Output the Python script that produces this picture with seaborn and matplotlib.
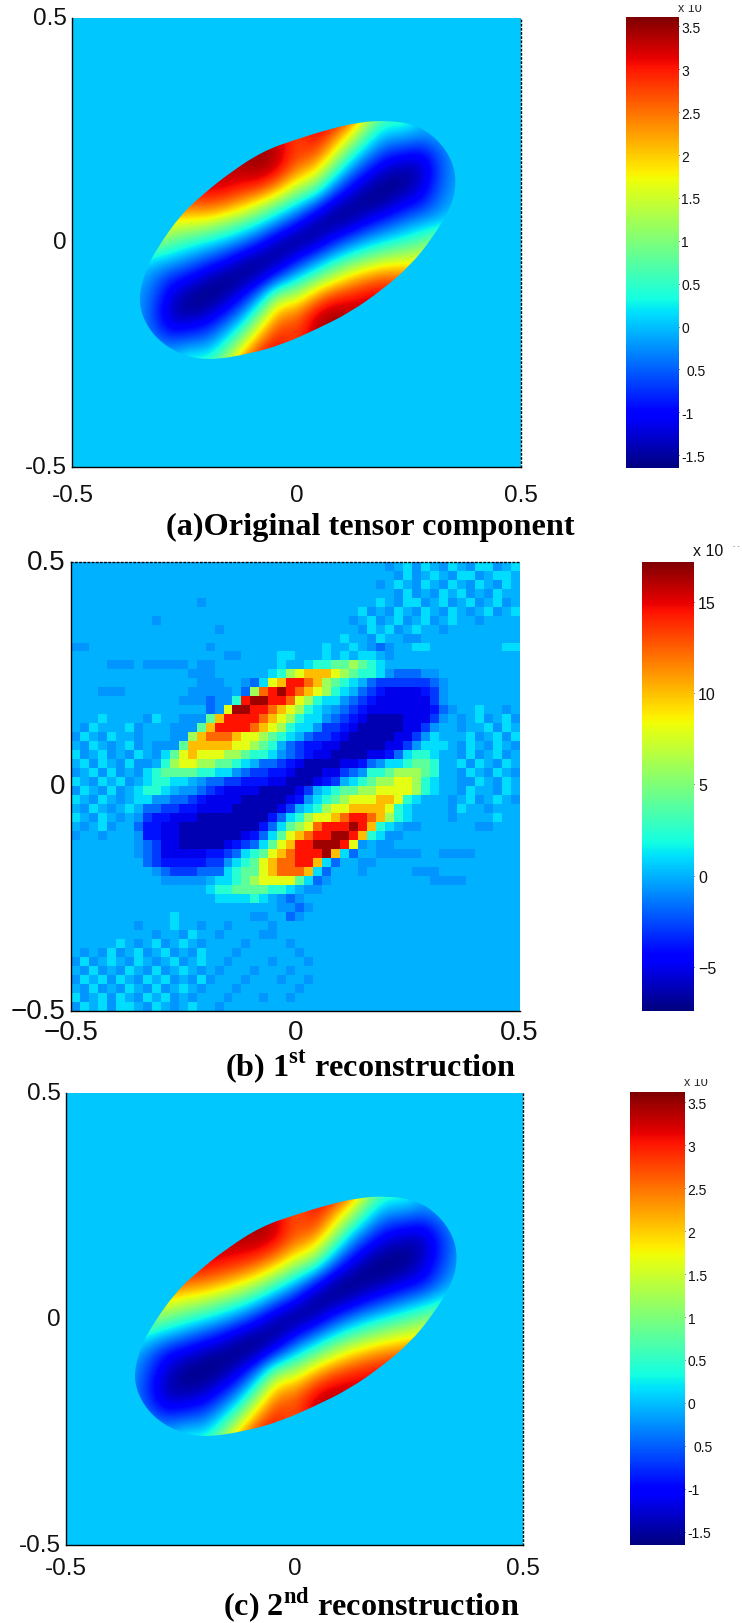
import numpy as np
import matplotlib
matplotlib.use("Agg")
import matplotlib.pyplot as plt
from matplotlib.patches import PathPatch, Rectangle
from matplotlib.path import Path
import seaborn as sns

sns.set_style("white")
plt.rcParams['font.family'] = ['Liberation Sans', 'DejaVu Sans']
plt.rcParams['mathtext.fontset'] = 'custom'
plt.rcParams['mathtext.bf'] = 'Liberation Serif:bold'
plt.rcParams['mathtext.rm'] = 'Liberation Serif:bold'

# ---- panel (a): one list per x (-0.40 .. 0.40), values for y = 0.32 .. -0.32, units of colourbar
FIELD_A_COLS = [
 [3,3,3,3,3,3,2.8,2.2,1.5,.3,0,0,0,0,0,0,0],
 [3,3,3,3,3,3,2.8,2.2,1.5,.3,0,-.1,-.1,-.1,0,0,0],
 [3.2,3.2,3.2,3.2,3.2,3.2,3.0,2.3,1.18,.1,-.3,-.5,-.6,-.5,-.05,0,0],
 [3.4,3.4,3.4,3.4,3.4,3.4,2.6,1.6,.75,0,-.8,-1.2,-1.4,-1.0,-.2,0,0],
 [3.4,3.4,3.4,3.4,3.4,3.1,2.5,1.55,.53,-.3,-1.0,-1.55,-1.5,-.85,0,.7,1.0],
 [3.4,3.4,3.4,3.4,3.4,3.2,2.65,1.4,.25,-.6,-1.4,-1.65,-1.35,-.7,0,.6,1.2],
 [3.45,3.45,3.45,3.45,3.3,3.2,2.4,1.05,0,-.95,-1.6,-1.5,-.9,-.15,.58,1.4,2.4],
 [3.45,3.45,3.45,3.45,3.35,3.0,2.0,.68,-.4,-1.4,-1.6,-1.05,-.25,.65,1.8,2.75,3.3],
 [3.45,3.45,3.45,3.5,3.45,2.85,1.4,.2,-.9,-1.6,-1.35,-.2,.9,2.0,2.9,3.3,3.45],
 [3.3,3.3,3.3,3.3,3.2,2.2,.75,-.4,-1.45,-1.55,-.6,1.2,2.3,2.9,3.2,3.4,3.45],
 [2.6,2.6,2.6,2.8,2.4,1.33,.15,-1.0,-1.65,-1.0,.15,1.33,2.4,2.8,2.6,2.6,2.6],
 [3.45,3.4,3.2,2.85,2.0,.9,-.6,-1.55,-1.45,-.4,.75,2.2,3.2,3.3,3.3,3.3,3.3],
 [3.45,3.3,2.7,1.9,.8,-.3,-1.35,-1.6,-.9,.2,1.4,2.85,3.45,3.5,3.45,3.45,3.45],
 [3.3,2.75,1.8,.65,-.25,-1.05,-1.6,-1.4,-.4,.68,2.0,3.0,3.35,3.45,3.45,3.45,3.45],
 [2.4,1.4,.58,-.15,-.9,-1.5,-1.6,-.95,0,1.05,2.4,3.2,3.3,3.45,3.45,3.45,3.45],
 [1.2,.6,0,-.7,-1.35,-1.65,-1.4,-.6,.25,1.4,2.65,3.2,3.4,3.4,3.4,3.4,3.4],
 [1.0,.7,0,-.85,-1.5,-1.55,-1.0,-.3,.53,1.55,2.5,3.1,3.4,3.4,3.4,3.4,3.4],
 [0,0,-.2,-1.0,-1.4,-1.2,-.8,0,.75,1.6,2.6,3.4,3.4,3.4,3.4,3.4,3.4],
 [0,0,-.05,-.5,-.6,-.5,-.3,.1,1.18,2.3,3.0,3.2,3.2,3.2,3.2,3.2,3.2],
 [0,0,0,-.1,-.1,-.1,0,.3,1.5,2.2,2.8,3,3,3,3,3,3],
 [0,0,0,0,0,0,0,.3,1.5,2.2,2.8,3,3,3,3,3,3],
]
# ---- panel (c): same layout
FIELD_C_COLS = [
 [2.6,2.6,2.6,2.6,2.6,2.6,2.5,2.0,1.4,.4,0,0,0,0,0,0,0],
 [2.8,2.8,2.8,2.8,2.8,2.8,2.6,2.0,1.4,.4,0,-.1,-.2,-.1,0,0,0],
 [3,3,3,3,3,3,2.8,2.0,1.2,.2,-.4,-.7,-.8,-.6,-.1,0,0],
 [3.2,3.2,3.2,3.2,3.2,3.2,2.8,1.8,.9,-.1,-1.0,-1.3,-1.45,-1.1,-.3,0,0],
 [3.3,3.3,3.3,3.3,3.3,3.2,2.6,1.6,.6,-.4,-1.2,-1.6,-1.5,-.95,-.1,.6,1],
 [3.35,3.35,3.35,3.35,3.35,3.15,2.5,1.4,.3,-.7,-1.45,-1.65,-1.4,-.8,-.1,.5,1.1],
 [3.4,3.4,3.4,3.4,3.3,3.05,2.25,1.05,0,-1.0,-1.6,-1.55,-1.0,-.25,.5,1.3,2.3],
 [3.45,3.45,3.45,3.45,3.3,2.9,1.9,.7,-.4,-1.4,-1.65,-1.15,-.35,.55,1.7,2.7,3.2],
 [3.45,3.45,3.45,3.45,3.3,2.6,1.4,.2,-.9,-1.6,-1.45,-.3,.8,1.9,2.8,3.2,3.4],
 [3.2,3.2,3.2,3.3,3.0,2.05,.75,-.4,-1.45,-1.6,-.7,1.1,2.2,2.85,3.1,3.3,3.4],
 [2.5,2.5,2.5,2.7,2.35,1.3,.15,-1.0,-1.65,-1.0,.15,1.3,2.35,2.7,2.5,2.5,2.5],
 [3.4,3.3,3.1,2.85,2.0,.85,-.7,-1.6,-1.45,-.4,.75,2.05,3.0,3.3,3.2,3.2,3.2],
 [3.4,3.2,2.6,1.85,.75,-.35,-1.45,-1.6,-.9,.2,1.4,2.6,3.3,3.45,3.45,3.45,3.45],
 [3.2,2.7,1.7,.55,-.35,-1.15,-1.65,-1.4,-.4,.7,1.9,2.9,3.3,3.45,3.45,3.45,3.45],
 [2.3,1.3,.5,-.25,-1.0,-1.55,-1.6,-1.0,0,1.05,2.25,3.05,3.3,3.4,3.4,3.4,3.4],
 [1.1,.5,-.1,-.8,-1.4,-1.65,-1.45,-.7,.3,1.4,2.5,3.15,3.35,3.35,3.35,3.35,3.35],
 [1,.6,-.1,-.95,-1.5,-1.6,-1.2,-.4,.6,1.6,2.6,3.2,3.3,3.3,3.3,3.3,3.3],
 [0,0,-.3,-1.1,-1.45,-1.3,-1.0,-.1,.9,1.8,2.8,3.2,3.2,3.2,3.2,3.2,3.2],
 [0,0,-.1,-.6,-.8,-.7,-.4,.2,1.2,2.0,2.8,3,3,3,3,3,3],
 [0,0,0,-.1,-.2,-.1,0,.4,1.4,2.0,2.6,2.8,2.8,2.8,2.8,2.8,2.8],
 [0,0,0,0,0,0,0,.4,1.4,2.0,2.5,2.6,2.6,2.6,2.6,2.6,2.6],
]
BACKGROUND_A = [[0.05, 0.05], [0.05, 0.05]]
BACKGROUND_C = [[0.05, 0.05], [0.05, 0.05]]
# edge of the elongated region in panels (a) and (c)
OUTLINE_X = [.14,.204,.268,.315,.347,.357,.347,.302,.253,.193,.119,.045,-.029,-.104,
             -.197,-.26,-.313,-.345,-.352,-.336,-.312,-.26,-.208,-.148,-.074,0,.075]
OUTLINE_Y = [.268,.272,.262,.23,.184,.136,.082,.008,-.052,-.104,-.156,-.193,-.226,-.248,
             -.263,-.249,-.215,-.165,-.117,-.06,-.0145,.06,.108,.156,.204,.23,.253]

# ---- panel (b): 50x50 cells, one letter per cell
CELL_LEVELS = dict(A=-6.3, B=-5.0, C=-3.9, D=-2.9, E=-1.8, F=-0.7, G=0.0, H=1.0,
                   I=2.4, J=4.0, K=6.0, L=8.0, M=10.0, N=12.3, O=14.5, P=16.5)
CELLS_B = [
 "GGGGGGGGGG GGGGGGGGGG GGGGGGGGGG GGGGGFGHFH GFHGFHHFGH",
 "GGGGGGGGGG GGGGGGGGGG GGGGGGGGGG GGGGGGFHFG HGFHHFGHHG",
 "GGGGGGGGGG GGGGGGGGGG GGGGGGGGGG GGGGFGHGFH GFHGFHGFHG",
 "GGGGGGGGGG GGGGGGGGGG GGGGGGGGGG GGGGGGFHFG FHGHFGFHGG",
 "GGGGGGGGGG GGGGFGGGGG GGGGGGGGGG GGGGHGFHHF GHFGHFGHFG",
 "GGGGGGGGGG GGGGGGGGGG GGGGGGGGGG GGHFGFHGFH GFHGFGHFGH",
 "GGGGGGGGGF GGGGGGGGGG GGGGGGGGGG GFGHFGHFGH FGHGGFGGGG",
 "GGGGGGGGGG GGGGGGFGGG GGGGGGGGGG GGFHGHFGHG GFGGGGGGGG",
 "GGGGGGGGGG GGGGGGGGGG GGGGGGGGGG HGGFHGGFFG GGGGGGGGGG",
 "FFGGGGGGGG GGGGGFGGGG GGGGGGGGHG GHGFEFGGHH GGGGGGGGHH",
 "GGGGGGGGGG GGGGGGGFFG GGGHHGGGHG HGHHGFGGGG GGGGGGGGGG",
 "GGGGFFFGFF FFFGFFGGGG GGGHGGHIIJ JKJIHGGGGG GGGGGGGGGG",
 "GGGGGGGGGG GGGFFFGGGG GGHIKLMMML KJIIHFEEEF FGGGGGGGGG",
 "GGGGGGGGGG GGGGFFFGGF EHLMOONMKJ IHGEDDDDDD EFGGGGGGGG",
 "GGGFFFGGGG GGGFFFFFGE KNOPONMLKI HGEDCBBBBC DFGGGGGGGG",
 "GGGGGGGGGG GGFFFEFFIO PPOONLKIHH FEDCBBBBBB DFGGGGGGGG",
 "GGGGGGGGGG GGGGGEFLPP OONMLKIHGF EDCBBBBBBB CEFGGHGGFG",
 "GGGHGGGGFH GGFFFJMOOO ONMLKIHHFE DCBAAAABBB DFGFGHFGHF",
 "GFHGGGHFGG GFFFJMOOOO NMLKIHHFDD CBAAAAABBD FGGFGGHFHG",
 "FHGFHGGFGG GFFKMNNNML LKJIHGEDDC BAAAAABBDF HGGGHFGHFH",
 "GFHGFGHFGF FFJMMMMMLL KJIGEDCCBB AAAAABBDFH HHGFHGFHGF",
 "HFGHFGFHGF HJLMLLLKKJ IIHFEDCBBA AAABBCEHII HGGFHFGHFG",
 "GHFHGFHFFG IKLLKKJJIH GEEDCBAAAA BBCEFHHIJJ IGGHFHGFHG",
 "FGHFHFGFHI JJJJIIHHFE DDCCBAAABB DEFIIJKKKJ IGGFHGFHGF",
 "HGFHGHFGHI IHHGFEEDDC CCBBAAABCD GHIJKKLLKI HGGFFHGFHG",
 "FHGFHFGHII HGFFEDCBBB BAAAABDGHI JJKKLLLLKI HGGFHGGFHG",
 "HGFHGFGHHF FEEDCBBBBA AAAABCFHIJ KLLLMMLIHG GGFGHFGHGF",
 "GFHGFGHGEE DDCCBBBBAA AAABDGHIKL LMMMMLIHGG GGFHGGFGGG",
 "HGFHGFGFDC CBBBAAAAAA AACEHIKLLM NOONMKIHGG GGFGGGGHGG",
 "GFGHFGGECC BBAAAAAAAA ACEHJKLNOO OPOMIHGFFG GGGGGFFGGG",
 "FGGFGGGFCC BBAAAAAAAB CEHJLMNOOP POMIHFFGGG GGGGGGGGGG",
 "GGGGGGGFED BBAAAAABCD EHJLMOOPPP OLFGFFGGGG GGGGGGGGGG",
 "GGGGGGGFED BBBBBCCDEH IJLMNOOOPM HEGGFFFFFG GFFFFGGGGG",
 "GGGGGGGGED CCCCCDDFHI JLMNNOOMHE GGFFGGGGGG GGGGGGGGGG",
 "GGGGGGGGGF EDDDEEEHIJ JLMNNNMHEG GGFGGGGGFF FGGGGGGGGG",
 "GGGGGGGGGG FFFFFGHHIJ KLLLLJHEFG GGGGGGGGGG FFFFGGGGGG",
 "GGGGGGGGGG GGGGGHIIJJ JJIIHGFFGG GGGGGGGGGG GGGGGGGGGG",
 "GGGGGGGGGG GGGGGGHHHH IHGFEFGGGG GGGGGGGGGG GGGGGGGGGG",
 "GGGGGGGGGG GGGGGGGGGG GGGFFEFGGG GGGGGGGGGG GGGGGGGGGG",
 "GGGGGGGGGG GHGGGGGGGG FFGGEFGGGG GGGGGGGGGG GGGGGGGGGG",
 "GGGGGGGFGG GHGGFGGFGG GGFGGGGGGG GGGGGGGGGG GGGGGGGGGG",
 "GGGGGGGGGF GGFHGGFGGG GFFGGGGGGG GGGGGGGGGG GGGGGGGGGG",
 "GGGGGHGFGH FGHGFGGGGF GGGGFGGGGG GGGGGGGGGG GGGGGGGGGG",
 "GFGFHFGHFG HFGFHGGGFG GGGGGFGGGG GGGGGGGGGG GGGGGGGGGG",
 "FHFGHGFHGF GHFGHGGFGG GGFGGGFGGG GGGGGGGGGG GGGGGGGGGG",
 "GFHFGFHGFH FGHGFGFGGG FGGGFGGGGG GGGGGGGGGG GGGGGGGGGG",
 "FHGHFHGFHG HFGFHFGGGF GGGFGGFGGG GGGGGGGGGG GGGGGGGGGG",
 "GFHFGFHGFH FGHGFGGGFG GGGGGFGGGG GGGGGGGGGG GGGGGGGGGG",
 "HFGHFHGFHG HFGFGGGFGG GFGGFGGGGG GGGGGGGGGG GGGGGGGGGG",
 "FHGHFHHGFH GFGHGGFGGG GGGGGGGGGG GGGGGGGGGG GGGGGGGGGG",
]

AXIS_TICKS = [-0.5, 0, 0.5]
X_LABELS_HYPHEN = ["-0.5", "0", "0.5"]
Y_LABELS_HYPHEN = ["-0.5", "0", "0.5"]
X_LABELS_MINUS = ["\u22120.5", "0", "0.5"]

CB_TICKS_AC = [3.5, 3, 2.5, 2, 1.5, 1, 0.5, 0, -0.5, -1, -1.5]
CB_LABELS_AC = ["3.5", "3", "2.5", "2", "1.5", "1", "0.5", "0", "0.5", "-1", "-1.5"]
CB_TICKS_B = [15, 10, 5, 0, -5]
CB_LABELS_B = ["15", "10", "5", "0", "\u22125"]
RANGE_A = (-1.65, 3.61)
RANGE_B = (-7.39, 17.2)
RANGE_C = (-1.65, 3.62)

TITLES = ["(a)Original tensor component",
          r"(b) 1$^{\mathbf{st}}$ reconstruction",
          r"(c) 2$^{\mathbf{nd}}$ reconstruction"]

W, H = 742, 1624
fig = plt.figure(figsize=(W / 100, H / 100), dpi=100, facecolor="white")


def box(x0, x1, y0, y1):
    return fig.add_axes([x0 / W, 1 - y1 / H, (x1 - x0) / W, (y1 - y0) / H])


def style(ax, cax, n, xlabels, ylabels, dotted, cb_ticks, cb_labels, cb_fs, cb_pad, fs, xpad):
    ax.set_xticks([n * (v + 0.5) for v in AXIS_TICKS], xlabels, rotation=0)
    ax.set_yticks([n * (0.5 - v) for v in AXIS_TICKS], ylabels, rotation=0, va="center")
    ax.tick_params(axis="both", length=0, labelsize=fs, colors="#111111")
    ax.tick_params(axis="x", pad=xpad)
    ax.tick_params(axis="y", pad=4)
    for name, sp in ax.spines.items():
        sp.set_visible(True)
        sp.set_color("black")
        sp.set_linewidth(1.0)
        if name in dotted:
            sp.set_linestyle((0, (1, 2)))
        elif name in ("top", "right"):
            sp.set_visible(False)
    cax.set_yticks(cb_ticks, cb_labels)
    cax.tick_params(axis="y", direction="in", length=3, width=0.7, left=True, right=True,
                    labelsize=cb_fs, pad=cb_pad, colors="#111111")
    for sp in cax.spines.values():
        sp.set_visible(False)


def outline_patch(ax):
    pts = np.column_stack([np.array(OUTLINE_X) + 0.5, np.array(OUTLINE_Y) + 0.5])
    nxt = np.roll(pts, -1, axis=0)
    mids = (pts + nxt) / 2
    verts = [mids[-1]]
    codes = [Path.MOVETO]
    for p, m in zip(pts, mids):
        verts += [p, m]
        codes += [Path.CURVE3, Path.CURVE3]
    return PathPatch(Path(verts, codes), transform=ax.transAxes)


def smooth_panel(bg, cols, rng, axbox, cbbox):
    ax = box(*axbox)
    cax = box(*cbbox)
    sns.heatmap(bg, vmin=rng[0], vmax=rng[1], cmap="jet", ax=ax, cbar_ax=cax, cbar=True)
    field = np.array(cols).T
    im = ax.imshow(field, cmap="jet", vmin=rng[0], vmax=rng[1], extent=(0.08, 0.92, 0.16, 0.84),
                   transform=ax.transAxes, interpolation="bicubic", aspect="auto", origin="upper",
                   zorder=2)
    im.set_clip_path(outline_patch(ax))
    ax.set_xlim(0, 2)
    ax.set_ylim(2, 0)
    return ax, cax


# panel a
ax, cax = smooth_panel(BACKGROUND_A, FIELD_A_COLS, RANGE_A, (72.4, 520.6, 19, 468), (625.6, 678.6, 18, 469))
style(ax, cax, 2, X_LABELS_HYPHEN, Y_LABELS_HYPHEN, ("right",), CB_TICKS_AC, CB_LABELS_AC, 10, 2, 17.5, 12)
cax.yaxis.get_major_ticks()[8].set_pad(6)

# panel b
cells = np.array([[CELL_LEVELS[ch] for ch in (row.replace(" ", "") + "G" * 50)[:50]] for row in CELLS_B])
ax, cax = box(71, 519.6, 562.7, 1011.6), box(642, 694, 562.7, 1011.6)
sns.heatmap(cells, vmin=RANGE_B[0], vmax=RANGE_B[1], cmap="jet", ax=ax, cbar_ax=cax, cbar=True)
style(ax, cax, 50, X_LABELS_MINUS, ["\u22120.5", "0", "0.5"], ("top",), CB_TICKS_B, CB_LABELS_B, 11.5, 3, 20, 6)

# panel c
ax, cax = smooth_panel(BACKGROUND_C, FIELD_C_COLS, RANGE_C, (66.3, 523, 1094, 1545.6), (630, 684.8, 1093, 1545.6))
style(ax, cax, 2, X_LABELS_HYPHEN, Y_LABELS_HYPHEN, ("right",), CB_TICKS_AC, CB_LABELS_AC, 10, 2, 17.5, 9)
cax.yaxis.get_major_ticks()[8].set_pad(6)

# titles
for txt, cx, cy in zip(TITLES, (370.8, 370.5, 371), (535, 1076, 1616)):
    fig.text(cx / W, 1 - cy / H, txt, ha="center", va="baseline", fontsize=23.2, fontweight="bold",
             family=["Liberation Serif", "DejaVu Serif"], color="black")

# multiplier labels above colourbars; the first and last are cut off at the top as in the source
clip_a = Rectangle((0, 1 - 13 / H), 1, 7 / H, transform=fig.transFigure)
t = fig.text(690 / W, 1 - 9 / H, "x 10", ha="center", va="center", fontsize=9)
t.set_clip_path(clip_a)
clip_c = Rectangle((0, 1 - 1087 / H), 1, 7 / H, transform=fig.transFigure)
t = fig.text(696 / W, 1 - 1083 / H, "x 10", ha="center", va="center", fontsize=9)
t.set_clip_path(clip_c)
fig.text(708 / W, 1 - 551 / H, "x 10", ha="center", va="center", fontsize=11.5, color="#111111")
fig.text(736 / W, 1 - 546 / H, "- -", ha="center", va="center", fontsize=5, color="#777777")

fig.savefig("out.png", dpi=100, facecolor="white")
